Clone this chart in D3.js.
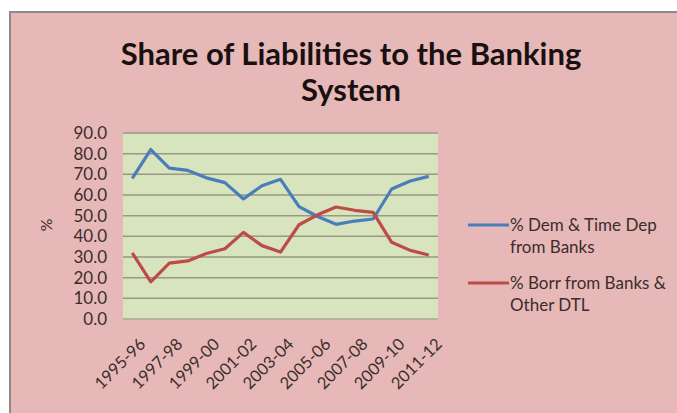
<!DOCTYPE html>
<html>
<head>
<meta charset="utf-8">
<script src="https://cdn.jsdelivr.net/npm/d3@7"></script>
<style>
  html, body { margin: 0; padding: 0; background: #ffffff; }
  svg { display: block; }
  text { font-family: Lato, "Open Sans", "Noto Sans", sans-serif; }
</style>
</head>
<body>
<svg id="chart" width="677" height="413"></svg>
<script>
// Fiscal years on the category axis
const years = ["1995-96","1996-97","1997-98","1998-99","1999-00","2000-01","2001-02",
  "2002-03","2003-04","2004-05","2005-06","2006-07","2007-08","2008-09","2009-10",
  "2010-11","2011-12"];
// Share of demand & time deposits from banks (%)
const demTimeDep = [68.0, 82.0, 73.0, 71.9, 68.3, 66.0, 58.1, 64.5, 67.6, 54.4, 49.6, 45.8, 47.4, 48.4, 62.9, 66.8, 69.0];
// Share of borrowings from banks & other DTL (%)
const borrBanks = [32.0, 18.0, 27.0, 28.1, 31.7, 34.0, 41.9, 35.5, 32.4, 45.6, 50.4, 54.2, 52.6, 51.6, 37.1, 33.2, 31.0];
// Y axis ticks
const yTicks = [0, 10, 20, 30, 40, 50, 60, 70, 80, 90];
const seriesNames = ["% Dem & Time Dep|from Banks", "% Borr from Banks &|Other DTL"];
const seriesColors = ["#4a7ebb", "#be4b48"];

const svg = d3.select("#chart");
const W = 677, H = 413;

// chart frame
svg.append("rect").attr("x", 10).attr("y", 12).attr("width", W - 9).attr("height", H - 11)
  .attr("fill", "#e6b9b8").attr("stroke", "#8f8a8a").attr("stroke-width", 2);

// title
const title = svg.append("text").attr("text-anchor", "middle")
  .attr("font-size", 31).attr("font-weight", "bold").attr("fill", "#1a1010");
title.append("tspan").attr("x", 351).attr("y", 65).text("Share of Liabilities to the Banking");
title.append("tspan").attr("x", 351).attr("y", 101).text("System");

const plot = { left: 123, top: 133, right: 438, bottom: 319 };

const x = d3.scaleBand().domain(years).range([plot.left, plot.right]).padding(0);
const y = d3.scaleLinear().domain([0, 90]).range([plot.bottom, plot.top]);

svg.append("rect").attr("x", plot.left).attr("y", plot.top)
  .attr("width", plot.right - plot.left).attr("height", plot.bottom - plot.top)
  .attr("fill", "#d7e4bd");

// gridlines
svg.append("g").selectAll("line").data(yTicks.filter(d => d > 0)).join("line")
  .attr("x1", plot.left).attr("x2", plot.right)
  .attr("y1", d => y(d)).attr("y2", d => y(d))
  .attr("stroke", "#979983").attr("stroke-width", 1.5);

// bottom axis line
svg.append("line").attr("x1", plot.left).attr("x2", plot.right)
  .attr("y1", plot.bottom).attr("y2", plot.bottom)
  .attr("stroke", "#a9aa98").attr("stroke-width", 1.3);

// y axis labels
const yAxis = d3.axisLeft(y).tickValues(yTicks).tickFormat(d3.format(".1f")).tickSize(0).tickPadding(16);
const gy = svg.append("g").attr("transform", `translate(${plot.left},0)`).call(yAxis);
gy.select(".domain").remove();
gy.selectAll("text").attr("font-size", 17).attr("fill", "#3d2c2c")
  .style("font-family", "Lato, 'Open Sans', sans-serif");

// x axis labels (every second year)
const xAxis = d3.axisBottom(x).tickValues(years.filter((d, i) => i % 2 === 0)).tickSize(0);
const gx = svg.append("g").attr("transform", `translate(0,${plot.bottom})`).call(xAxis);
gx.select(".domain").remove();
gx.selectAll("text")
  .attr("font-size", 16.5).attr("fill", "#3d2c2c")
  .style("font-family", "Lato, 'Open Sans', sans-serif")
  .attr("text-anchor", "end").attr("dy", "0.35em")
  .attr("transform", "translate(8,20) rotate(-45)");

// y axis title
svg.append("text").attr("transform", "translate(47,225) rotate(90)")
  .attr("text-anchor", "middle").attr("dy", "0.35em")
  .attr("font-size", 16).attr("fill", "#3d2c2c").text("%");

// series lines
const line = d3.line().x((d, i) => x(years[i]) + x.bandwidth() / 2).y(d => y(d));
[demTimeDep, borrBanks].forEach((s, k) => {
  svg.append("path").datum(s).attr("d", line)
    .attr("fill", "none").attr("stroke", seriesColors[k])
    .attr("stroke-width", 3.2).attr("stroke-linejoin", "round");
});

// legend
const legendY = [225, 283];
seriesNames.forEach((name, k) => {
  svg.append("line").attr("x1", 468).attr("x2", 509)
    .attr("y1", legendY[k]).attr("y2", legendY[k])
    .attr("stroke", seriesColors[k]).attr("stroke-width", 3.2);
  const t = svg.append("text").attr("font-size", 17).attr("fill", "#3d2c2c");
  name.split("|").forEach((ln, j) => {
    t.append("tspan").attr("x", 510).attr("y", legendY[k] + 6 + j * 22).text(ln);
  });
});
</script>
</body>
</html>
